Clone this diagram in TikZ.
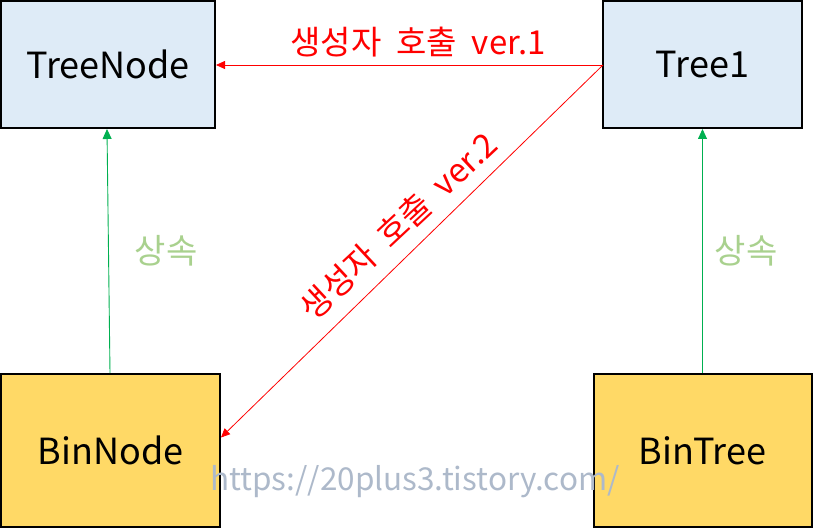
\documentclass[tikz,border=0pt]{standalone}
\usepackage{fontspec}
\setmainfont{Noto Sans CJK KR}
\usetikzlibrary{arrows.meta}
\definecolor{bluefill}{RGB}{222,235,247}
\definecolor{yellowfill}{RGB}{255,217,102}
\definecolor{inhgreen}{RGB}{0,176,80}
\definecolor{lightgreen}{RGB}{169,209,142}
\definecolor{wmark}{RGB}{173,185,202}
\newcommand{\wsp}{\hspace{0.45em}}
\tikzset{
  boxbase/.style={draw=black, line width=2pt, inner sep=0pt, font=\fontsize{36}{42}\selectfont},
  bluebox/.style={boxbase, fill=bluefill},
  yellowbox/.style={boxbase, fill=yellowfill},
  callarrow/.style={draw=red, line width=0.8pt, -{Triangle[length=9pt,width=8pt]}},
  inharrow/.style={draw=inhgreen, line width=0.9pt, -{Triangle[length=10pt,width=9pt]}},
  calllabel/.style={text=red, font=\fontsize{33}{38}\selectfont, inner sep=0pt},
  inhlabel/.style={text=lightgreen, font=\fontsize{34}{40}\selectfont, inner sep=0pt},
}
\begin{document}
\begin{tikzpicture}[x=1pt,y=-1pt]
\useasboundingbox (0,0) rectangle (813,529);
\node[bluebox, minimum width=214pt, minimum height=127pt] (treenode) at (108,64.5) {TreeNode};
\node[bluebox, minimum width=199pt, minimum height=127pt] (tree1) at (702.5,64.5) {Tree1};
\node[yellowbox, minimum width=219pt, minimum height=153pt] (binnode) at (110.5,450.5) {BinNode};
\node[yellowbox, minimum width=218pt, minimum height=153pt] (bintree) at (702.5,450.5) {BinTree};
\coordinate (t1w) at (603,65);
\draw[callarrow] (t1w) -- (treenode.east |- t1w);
\draw[callarrow] (t1w) -- ([yshift=13pt]binnode.east);
\draw[inharrow] ([xshift=-0.5pt]binnode.north) -- ([xshift=-1pt]treenode.south);
\draw[inharrow] (bintree.north) -- (tree1.south);
\node[calllabel] (lbl1) at (418,42) {생성자\wsp 호출\wsp ver.1};
\node[calllabel, rotate=43] (lbl2) at (398,226) {생성자\wsp 호출\wsp ver.2};
\node[inhlabel] (inh1) at (166,251) {상속};
\node[inhlabel] (inh2) at (746,251) {상속};
\node[text=wmark, font=\fontsize{31.5}{36}\selectfont, inner sep=0pt] (wm) at (415,482) {https://20plus3.tistory.com/};
\end{tikzpicture}
\end{document}
